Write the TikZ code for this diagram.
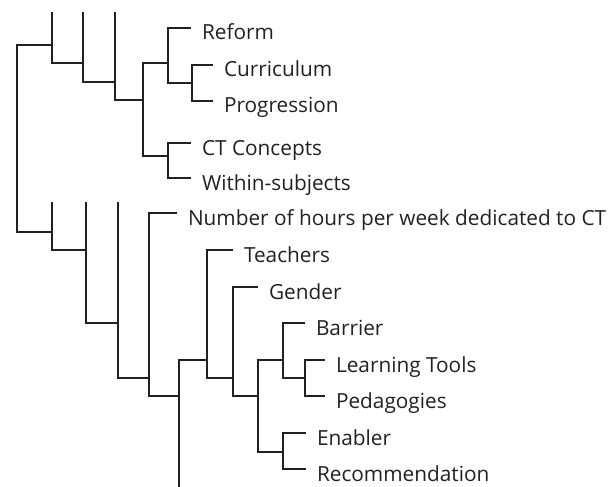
\documentclass[tikz,border=0pt]{standalone}
\usepackage{fontspec}
\setmainfont{Open Sans}

\begin{document}
\begin{tikzpicture}[x=1pt,y=-1pt,line width=2pt,color=black!87,
  leaf/.style={anchor=west,inner xsep=10pt,inner ysep=0pt,text height=24pt,text depth=0pt,font=\fontsize{20.8}{24}\selectfont}]
\useasboundingbox (0,0) rectangle (608,487);

% joins
\coordinate (root) at (17,138);
\coordinate (u0) at (52,45);
\coordinate (u1) at (83,63);
\coordinate (u2) at (115,82);
\coordinate (u3) at (143,100);
\coordinate (u4) at (168,63);
\coordinate (u5) at (168,156);
\coordinate (u6) at (192,83);
\coordinate (l0) at (52,232);
\coordinate (l1) at (86,250);
\coordinate (l2) at (118,323);
\coordinate (l3) at (149,378);
\coordinate (l4) at (179,396);
\coordinate (l5) at (207,360);
\coordinate (l6) at (233,378);
\coordinate (l7) at (258,396);
\coordinate (l8) at (283,360);
\coordinate (l9) at (283,452);
\coordinate (l10) at (305,378);

% cut branches
\coordinate (u0cut) at (52,12);
\coordinate (u1cut) at (83,12);
\coordinate (u2cut) at (115,12);
\coordinate (l0cut) at (52,202);
\coordinate (l1cut) at (86,202);
\coordinate (l2cut) at (118,202);
\coordinate (l4cut) at (179,487);

% leaves
\node[leaf] (reform) at (191,28) {Reform};
\node[leaf] (curriculum) at (213,65) {Curriculum};
\node[leaf] (progression) at (213,101) {Progression};
\node[leaf] (concepts) at (191,143) {CT Concepts};
\node[leaf] (within) at (191,178) {Within-subjects};
\node[leaf] (hours) at (177,213) {Number of hours per week dedicated to CT};
\node[leaf] (teachers) at (233,250) {Teachers};
\node[leaf] (gender) at (258,287) {Gender};
\node[leaf] (barrier) at (305,323) {Barrier};
\node[leaf] (tools) at (325,360) {Learning Tools};
\node[leaf] (pedagogies) at (325,396) {Pedagogies};
\node[leaf] (enabler) at (306,433) {Enabler};
\node[leaf] (recommendation) at (306,469) {Recommendation};

\draw (root) |- (u0);
\draw (root) |- (l0);

\draw (u0) -- (u0cut);
\draw (u0) |- (u1);
\draw (u1) -- (u1cut);
\draw (u1) |- (u2);
\draw (u2) -- (u2cut);
\draw (u2) |- (u3);
\draw (u3) |- (u4);
\draw (u3) |- (u5);
\draw (u4) |- (reform.west);
\draw (u4) |- (u6);
\draw (u6) |- (curriculum.west);
\draw (u6) |- (progression.west);
\draw (u5) |- (concepts.west);
\draw (u5) |- (within.west);

\draw (l0) -- (l0cut);
\draw (l0) |- (l1);
\draw (l1) -- (l1cut);
\draw (l1) |- (l2);
\draw (l2) -- (l2cut);
\draw (l2) |- (l3);
\draw (l3) |- (hours.west);
\draw (l3) |- (l4);
\draw (l4) -- (l4cut);
\draw (l4) |- (l5);
\draw (l5) |- (teachers.west);
\draw (l5) |- (l6);
\draw (l6) |- (gender.west);
\draw (l6) |- (l7);
\draw (l7) |- (l8);
\draw (l7) |- (l9);
\draw (l8) |- (barrier.west);
\draw (l8) |- (l10);
\draw (l10) |- (tools.west);
\draw (l10) |- (pedagogies.west);
\draw (l9) |- (enabler.west);
\draw (l9) |- (recommendation.west);
\end{tikzpicture}
\end{document}
